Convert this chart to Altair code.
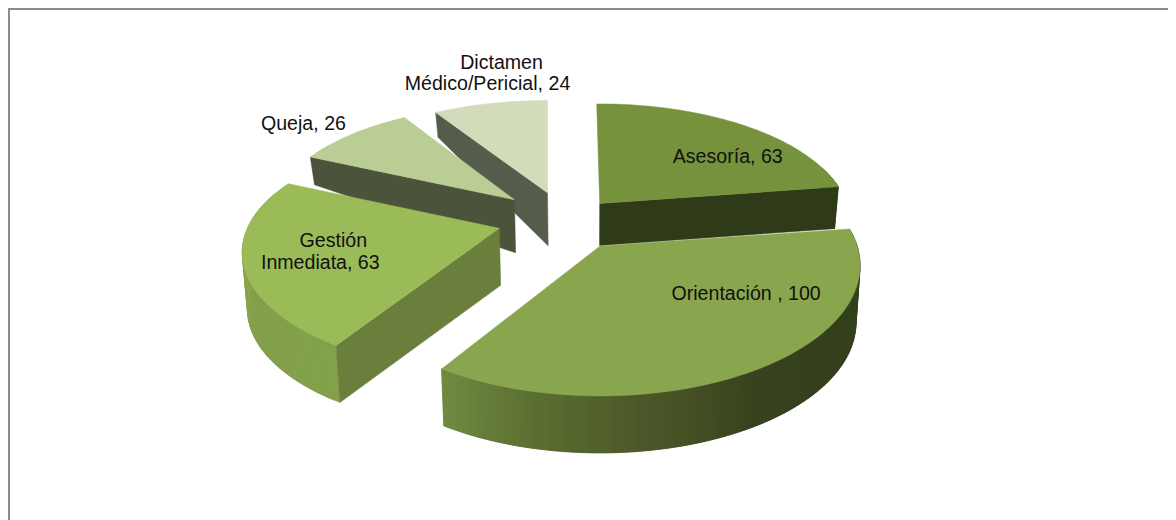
import math
import altair as alt

# Data
categories = ["Asesoría", "Orientación", "Gestión Inmediata", "Queja", "Dictamen Médico/Pericial"]
values = [63, 100, 63, 26, 24]

# Label lines: slice index, text, offset from the slice apex
label_slice = [0, 1, 2, 2, 3, 4, 4]
label_text = ["Asesoría, 63", "Orientación , 100", "Gestión", "Inmediata, 63", "Queja, 26", "Dictamen", "Médico/Pericial, 24"]
label_dx = [128, 146, -166, -179, -211, -46, -60]
label_dy = [-46, 48, 13, 35, -76, -130, -109]

# Styling / 3-D view parameters (page pixels minus margin)
OX, OY = 8, 8
CX, CY = 557, 215
A, B = 257, 118
persp = [0.15, 0.15, 0.2, 0.15, 0.15]
explode = [65, 80, 57, 53, 50]
apex_dx = [0, 0, -3, -3, 4]
apex_dy = [11, 0, 6, 1, 0]
rot = [-0.8, 0, 0, 0, 0]
scale_x = [0.96, 1.0, 0.98, 0.93, 0.945]
scale_y = [0.97, 1.08, 0.98, 0.92, 0.9]
wall_h = [42, 57, 57, 53, 53]
wall_taper = [0, 0, 0, -60, -33]
wall_side = ["end", None, "start", "start", "start"]
top_color = ["#76923c", "#89a54e", "#9bbb59", "#bacd94", "#d2dcbb"]
side_color = ["#2f3a19", "#333e1c", "#6a7f3c", "#4b533a", "#555c4b"]
rim_stops = [
    ["#2f3a19", "#3a4620"],
    ["#44502a", "#35401d", "#343f1c", "#37421e", "#4a5528", "#5a6c30", "#708a40"],
    ["#83a04a", "#849f4b", "#8aa54e", "#8ea952"],
    ["#4b533a"],
    ["#555c4b"],
]
LEAN_X, LEAN = 590, 0.015


def hex2rgb(h):
    return [int(h[i:i + 2], 16) for i in (1, 3, 5)]


def grad(stops, t):
    if len(stops) == 1:
        return stops[0]
    p = min(max(t, 0), 1) * (len(stops) - 1)
    i = min(int(p), len(stops) - 2)
    f = p - i
    a, b = hex2rgb(stops[i]), hex2rgb(stops[i + 1])
    return "#%02x%02x%02x" % tuple(round(a[j] + (b[j] - a[j]) * f) for j in range(3))


total = sum(values)
starts, ends = [], []
acc = 0
for v in values:
    starts.append(acc / total * 2 * math.pi)
    acc += v
    ends.append(acc / total * 2 * math.pi)

apex = []
for i in range(len(values)):
    mid = (starts[i] + ends[i]) / 2
    apex.append((CX + explode[i] * math.sin(mid) + apex_dx[i],
                 CY - explode[i] * 0.46 * math.cos(mid) + apex_dy[i]))


def rim(i, th):
    th = th + math.radians(rot[i])
    z = math.cos(th)
    s = 1 / (1 + persp[i] * z)
    return (apex[i][0] + A * scale_x[i] * math.sin(th) * s,
            apex[i][1] - B * scale_y[i] * z * s)


def drop(i, pt, z):
    h = wall_h[i] + wall_taper[i] * z
    return (pt[0] + (LEAN_X - pt[0]) * LEAN, pt[1] + h)


features = []


def poly(pts, color):
    ring = [[p[0] - OX, p[1] - OY] for p in pts]
    ring.append(ring[0])
    features.append({"type": "Feature", "properties": {"c": color},
                     "geometry": {"type": "Polygon", "coordinates": [ring]}})


for i in [4, 3, 0, 2, 1]:
    a0, a1 = starts[i], ends[i]
    n = max(8, int(math.degrees(a1 - a0) / 1.5))
    ths = [a0 + (a1 - a0) * k / n for k in range(n + 1)]
    # outer wall, only its front part shows; each strip overlaps the next to hide seams
    for k in range(n):
        t0, t1 = ths[k], ths[min(k + 2, n)]
        if math.cos((t0 + t1) / 2) > 0.3:
            continue
        p0, p1 = rim(i, t0), rim(i, t1)
        poly([p0, p1, drop(i, p1, math.cos(t1)), drop(i, p0, math.cos(t0))],
             grad(rim_stops[i], (k + 0.5) / n))
    # radial wall
    if wall_side[i]:
        th = a1 if wall_side[i] == "end" else a0
        p = rim(i, th)
        poly([apex[i], p, drop(i, p, math.cos(th)), drop(i, apex[i], 0)], side_color[i])
    # top face
    poly([apex[i]] + [rim(i, t) for t in ths], top_color[i])

label_rows = [{"lon": apex[s][0] + dx - OX, "lat": apex[s][1] + dy - OY, "t": t}
              for s, t, dx, dy in zip(label_slice, label_text, label_dx, label_dy)]

PROJ = {"type": "identity", "scale": 1, "translate": [0, 0]}

shapes = alt.Chart(alt.Data(values=features)).mark_geoshape(strokeWidth=0.5).encode(
    fill=alt.Fill("properties.c:N", scale=None),
    stroke=alt.Stroke("properties.c:N", scale=None),
).project(**PROJ)

labels = alt.Chart(alt.Data(values=label_rows)).mark_text(
    font="Liberation Sans", fontSize=19.6, color="#111111", align="center", baseline="middle"
).encode(longitude="lon:Q", latitude="lat:Q", text="t:N").project(**PROJ)

top_border = alt.Chart(alt.Data(values=[{"a": 1}])).mark_rule(color="#8c8c8c", strokeWidth=4).encode(
    x=alt.value(0), x2=alt.value(1160), y=alt.value(0))
left_border = alt.Chart(alt.Data(values=[{"a": 1}])).mark_rule(color="#8c8c8c", strokeWidth=4).encode(
    x=alt.value(0), y=alt.value(0), y2=alt.value(512))

chart = alt.layer(shapes, labels, top_border, left_border).properties(
    width=1160, height=512, padding=0, autosize=alt.AutoSizeParams(type="none"),
    background="white",
).configure_view(stroke=None)

chart.save("out.html", embed_options={"renderer": "svg", "actions": False})
